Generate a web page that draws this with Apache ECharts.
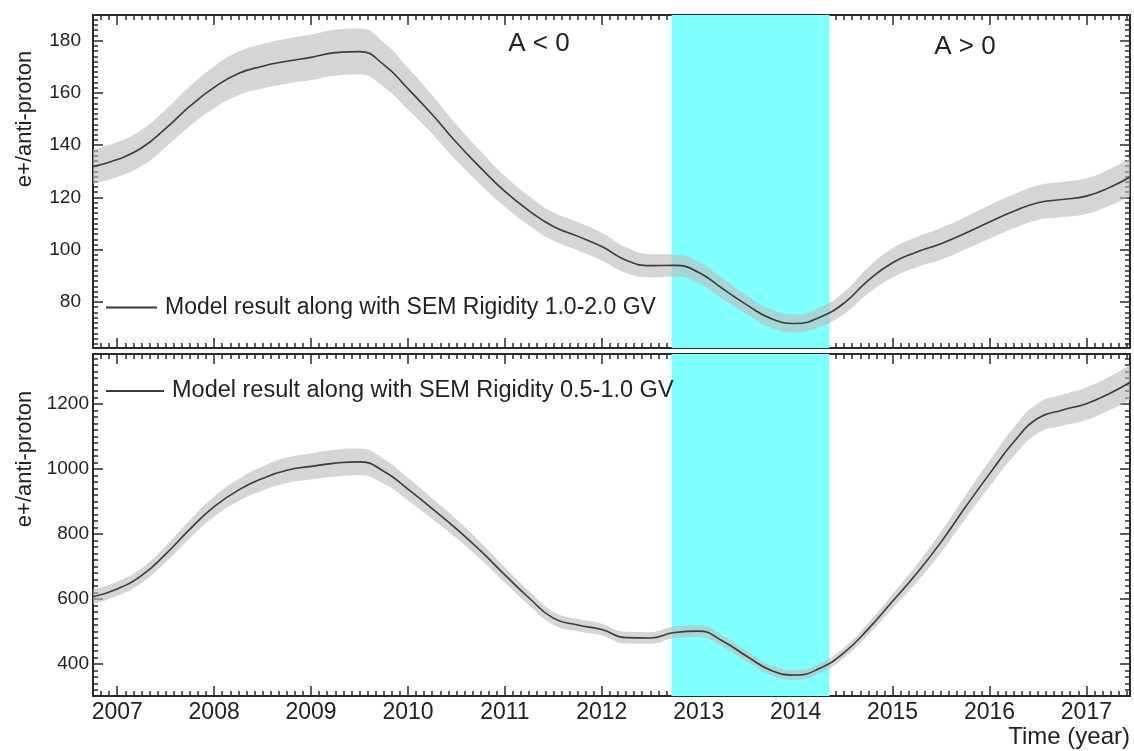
<!DOCTYPE html>
<html>
<head>
<meta charset="utf-8">
<script src="https://cdn.jsdelivr.net/npm/echarts@6/dist/echarts.min.js"></script>
<style>
  html, body { margin: 0; padding: 0; background: #ffffff; }
  #chart { width: 1134px; height: 751px; }
</style>
</head>
<body>
<div id="chart"></div>
<script>
// Sampling times in decimal years
const years = [
  2006.75,
  2007.00, 2007.25, 2007.50, 2007.75,
  2008.00, 2008.25, 2008.50, 2008.75,
  2009.00, 2009.25, 2009.50, 2009.75,
  2010.00, 2010.25, 2010.50, 2010.75,
  2011.00, 2011.25, 2011.50, 2011.75,
  2012.00, 2012.25, 2012.50, 2012.75,
  2013.00, 2013.25, 2013.50, 2013.75,
  2014.00, 2014.25, 2014.50, 2014.75,
  2015.00, 2015.25, 2015.50, 2015.75,
  2016.00, 2016.25, 2016.50, 2016.75,
  2017.00, 2017.25, 2017.45
];

// e+/anti-proton ratio, rigidity 1.0-2.0 GV, and half-width of its uncertainty band
const ratioHigh = [
  131.8,
  134.5, 138.9, 146.4, 154.9,
  162.1, 167.4, 170.2, 172.1,
  173.6, 175.4, 175.8, 170.8,
  161.6, 151.7, 141.0, 131.3,
  122.3, 114.9, 108.9, 105.2,
  101.2, 96.0, 93.9, 94.0,
  91.3, 85.0, 78.8, 73.6,
  71.8, 74.2, 79.6, 88.3,
  95.0, 99.1, 102.3, 106.3,
  110.6, 114.7, 118.0, 119.2,
  120.5, 124.0, 127.8
];
const errHigh = [
  6.6,
  6.7, 6.9, 7.2, 7.6,
  8.0, 8.3, 8.5, 8.6,
  8.7, 8.8, 8.8, 8.5,
  8.0, 7.4, 6.9, 6.4,
  5.9, 5.6, 5.4, 5.4,
  5.3, 4.9, 4.4, 4.2,
  4.1, 3.9, 3.6, 3.5,
  3.5, 3.7, 4.2, 5.0,
  5.6, 5.8, 6.0, 6.2,
  6.4, 6.5, 6.6, 6.7,
  6.8, 7.0, 7.2
];

// e+/anti-proton ratio, rigidity 0.5-1.0 GV, and half-width of its uncertainty band
const ratioLow = [
  607,
  631, 672, 738, 815,
  884, 935, 971, 996,
  1008, 1018, 1022, 993,
  938, 878, 816, 748,
  674, 603, 541, 520,
  506, 481, 480, 497,
  501, 470, 423, 380,
  366, 387, 435, 508,
  593, 679, 775, 882,
  985, 1083, 1156, 1181,
  1201, 1234, 1267
];
const errLow = [
  22,
  22, 23, 25, 28,
  31, 34, 37, 39,
  40, 41, 41, 38,
  35, 32, 29, 26,
  24, 22, 20, 19,
  18, 18, 18, 18,
  18, 17, 16, 15,
  15, 15, 16, 18,
  22, 27, 32, 36,
  40, 44, 46, 48,
  50, 52, 54
];

// Tick labels
const yearTicks = [2007, 2008, 2009, 2010, 2011, 2012, 2013, 2014, 2015, 2016, 2017];
const highTicks = [80, 100, 120, 140, 160, 180];
const lowTicks = [400, 600, 800, 1000, 1200];

// Period without a well-defined HMF polarity
const polarityWindow = [2012.72, 2014.35];

const nameHigh = 'Model result along with SEM Rigidity 1.0-2.0 GV';
const nameLow = 'Model result along with SEM Rigidity 0.5-1.0 GV';

// Axis extents
const xRange = [2006.75, 2017.45];
const highRange = [62.4, 189.8];
const lowRange = [301.5, 1353.8];

const FONT = '"Liberation Sans", Arial, Helvetica, sans-serif';
const INK = '#222222';
const FRAME = '#2a2a2a';

// Evenly spaced minor tick positions: multiples of 1/perUnit inside [lo, hi]
function minorTicks(lo, hi, perUnit) {
  const out = [];
  for (let k = Math.ceil(lo * perUnit - 1e-9); k <= Math.floor(hi * perUnit + 1e-9); k++) {
    out.push(k / perUnit);
  }
  return out;
}
const monthTicks = minorTicks(xRange[0], xRange[1], 12);
const highMinor = minorTicks(highRange[0], highRange[1], 0.5);
const lowMinor = minorTicks(lowRange[0], lowRange[1], 0.05);

function makeAxis(gridIndex, position, range, tickValues, tickLen, showLine, label) {
  return {
    type: 'value',
    gridIndex: gridIndex,
    position: position,
    min: range[0],
    max: range[1],
    axisLine: { show: showLine, onZero: false, lineStyle: { color: FRAME, width: 2 } },
    axisTick: {
      show: true, inside: true, length: tickLen, customValues: tickValues,
      lineStyle: { color: FRAME, width: 1.5 }
    },
    axisLabel: label ? Object.assign({
      show: true,
      customValues: label.values,
      formatter: function (v) { return String(v); },
      color: INK,
      fontFamily: FONT
    }, label.style) : { show: false },
    splitLine: { show: false },
    minorTick: { show: false },
    axisPointer: { show: false }
  };
}

const xAxes = [];
const yAxes = [];
[0, 1].forEach(function (g) {
  const xLabel = g === 1 ? { values: yearTicks, style: { fontSize: 23, margin: 5 } } : null;
  xAxes.push(makeAxis(g, 'bottom', xRange, yearTicks, 10, true, xLabel));
  xAxes.push(makeAxis(g, 'bottom', xRange, monthTicks, 5, false, null));
  xAxes.push(makeAxis(g, 'top', xRange, yearTicks, 10, true, null));
  xAxes.push(makeAxis(g, 'top', xRange, monthTicks, 5, false, null));

  const range = g === 0 ? highRange : lowRange;
  const major = g === 0 ? highTicks : lowTicks;
  const minor = g === 0 ? highMinor : lowMinor;
  const yLabel = { values: major, style: { fontSize: 19, margin: g === 0 ? 12 : 4 } };
  yAxes.push(makeAxis(g, 'left', range, major, 10, true, yLabel));
  yAxes.push(makeAxis(g, 'left', range, minor, 5, false, null));
  yAxes.push(makeAxis(g, 'right', range, major, 10, true, null));
  yAxes.push(makeAxis(g, 'right', range, minor, 5, false, null));
});

// Uncertainty band (lower edge stacked with the band width), model curve and
// the polarity window for one panel. Band rows are [ratio, time] so that the
// ratio column is the one that gets stacked.
function panelSeries(g, name, values, errs) {
  const axes = { xAxisIndex: 4 * g, yAxisIndex: 4 * g };
  const stack = 'band' + g;
  const bandCommon = {
    type: 'line',
    stack: stack,
    dimensions: ['ratio', 'time'],
    encode: { x: 'time', y: 'ratio' },
    smooth: 0.5,
    symbol: 'none',
    silent: true,
    lineStyle: { width: 0, opacity: 0 }
  };
  return [
    Object.assign({}, bandCommon, {
      name: 'lower' + g,
      data: years.map(function (t, i) { return [values[i] - errs[i], t]; }),
      z: 2,
      markArea: {
        silent: true,
        label: { show: false },
        itemStyle: { color: '#80ffff', opacity: 1 },
        data: [[{ xAxis: polarityWindow[0] }, { xAxis: polarityWindow[1] }]]
      }
    }, axes),
    Object.assign({}, bandCommon, {
      name: 'band' + g,
      data: years.map(function (t, i) { return [2 * errs[i], t]; }),
      areaStyle: { color: 'rgba(188,188,188,0.62)', opacity: 1 },
      z: 3
    }, axes),
    Object.assign({
      name: name,
      type: 'line',
      data: years.map(function (t, i) { return [t, values[i]]; }),
      smooth: 0.5,
      symbol: 'none',
      silent: true,
      color: '#3a3a3a',
      lineStyle: { color: '#3a3a3a', width: 1.6 },
      z: 4
    }, axes)
  ];
}

function legendFor(name, top, iconWidth, fontSize) {
  return {
    data: [name],
    left: 106,
    top: top,
    padding: 0,
    icon: 'rect',
    itemWidth: iconWidth,
    itemHeight: 2,
    selectedMode: false,
    textStyle: { fontSize: fontSize, color: INK, fontFamily: FONT, padding: [0, 0, 0, 3] }
  };
}

function label(text, x, y, size, extra) {
  return Object.assign({
    type: 'text',
    x: x,
    y: y,
    silent: true,
    style: Object.assign({
      text: text,
      fontSize: size,
      fontFamily: FONT,
      fill: INK,
      align: 'center',
      verticalAlign: 'middle'
    }, extra && extra.style)
  }, extra && extra.props);
}

const chart = echarts.init(document.getElementById('chart'), null, { renderer: 'canvas' });
chart.setOption({
  animation: false,
  backgroundColor: '#ffffff',
  grid: [
    { left: 93, right: 4, top: 15, height: 333, outerBoundsMode: 'none', containLabel: false },
    { left: 93, right: 4, top: 354, height: 342, outerBoundsMode: 'none', containLabel: false }
  ],
  xAxis: xAxes,
  yAxis: yAxes,
  legend: [
    legendFor(nameHigh, 296, 51, 23),
    legendFor(nameLow, 379, 58, 23.5)
  ],
  series: panelSeries(0, nameHigh, ratioHigh, errHigh).concat(panelSeries(1, nameLow, ratioLow, errLow)),
  graphic: [
    label('A < 0', 539, 44, 26),
    label('A > 0', 965, 47, 26),
    label('no well-defined\nHMF polarity', 752, 54, 22.5, { style: { lineHeight: 27 } }),
    label('e+/anti-proton', 25, 119, 22, { props: { rotation: Math.PI / 2 } }),
    label('e+/anti-proton', 25, 459, 22, { props: { rotation: Math.PI / 2 } }),
    label('Time (year)', 1130, 737, 24, { style: { align: 'right' } })
  ]
});
</script>
</body>
</html>
